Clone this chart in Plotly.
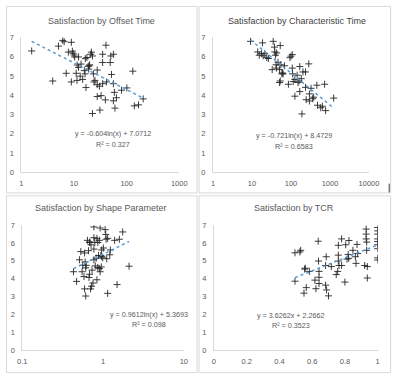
import numpy as np
import plotly.graph_objects as go

# ---------------- data ----------------
offset_x = [1.57, 3.94, 5.07, 6.1, 6.5, 7.1, 7.8, 8.9, 8.9, 9.3, 9.6, 10, 10.3, 11, 11.4, 11.5,
            12.2, 12.2, 13.1, 13.6, 14.6, 15.7, 16.2, 16.4, 16.9, 17.6, 18.6, 19, 19.4, 19.8,
            20.8, 21.4, 22.4, 22.4, 23.4, 24, 25, 27.6, 27.6, 27.6, 30.4, 31, 32.7, 35, 35,
            35, 39.4, 40.5, 41.5, 48.7, 50, 51.5, 56, 56, 56, 58.4, 60, 64, 80, 101, 131,
            140, 168, 206]
offset_y = [6.30, 4.74, 6.55, 6.85, 6.78, 5.14, 6.24, 6.75, 4.69, 6.29, 6.18, 6.09, 5.99, 5.14,
            4.77, 5.57, 5.99, 5.45, 4.99, 5.62, 4.82, 5.28, 5.11, 5.90, 4.40, 5.96, 5.50, 5.36,
            5.53, 5.58, 6.13, 6.24, 6.04, 3.05, 5.11, 4.69, 4.77, 5.31, 4.55, 3.93, 4.47, 3.23,
            3.98, 5.70, 6.13, 4.60, 3.76, 6.60, 4.69, 5.70, 6.04, 5.08, 6.13, 4.60, 3.71, 4.15,
            3.33, 3.87, 4.26, 4.38, 5.25, 3.45, 3.50, 3.81]

char_x = [9.2, 14, 15.4, 17.6, 18.6, 19.3, 21.3, 23.9, 26.3, 33, 35, 37.7, 38.5, 40, 41.4, 42.4,
          43, 46.5, 51, 51, 53, 53, 55, 58.6, 60, 63, 68, 86, 94, 100, 108, 108, 110, 114,
          126, 126, 144, 152, 161, 168, 168, 184, 191, 203, 236, 236, 245, 286, 297, 297,
          327, 360, 381, 461, 479, 580, 638, 729, 773, 1245]
char_y = [6.80, 6.25, 6.08, 6.16, 6.72, 6.05, 6.16, 5.95, 5.91, 5.33, 6.80, 6.50, 6.25, 6.08,
          5.58, 5.41, 6.20, 5.71, 5.33, 4.66, 6.58, 4.74, 5.58, 5.11, 5.16, 5.11, 5.53, 4.57,
          5.95, 6.03, 6.11, 5.41, 5.11, 4.71, 4.82, 3.95, 5.04, 4.66, 4.74, 5.49, 4.19, 4.86,
          3.03, 5.21, 5.21, 4.41, 3.77, 5.63, 4.07, 3.70, 4.36, 3.82, 3.90, 4.52, 3.48, 3.35,
          3.43, 4.57, 3.20, 3.85]

shape_x = [0.43, 0.47, 0.51, 0.53, 0.55, 0.56, 0.58, 0.59, 0.59, 0.60, 0.61, 0.61, 0.62, 0.64,
           0.66, 0.67, 0.68, 0.68, 0.685, 0.70, 0.71, 0.72, 0.73, 0.75, 0.77, 0.77, 0.77, 0.77,
           0.79, 0.80, 0.82, 0.84, 0.84, 0.86, 0.86, 0.88, 0.90, 0.90, 0.92, 0.92, 0.94, 0.95,
           0.96, 0.96, 0.99, 1.01, 1.06, 1.08, 1.09, 1.11, 1.14, 1.14, 1.21, 1.23, 1.39, 1.49,
           1.59, 1.75, 2.10]
shape_y = [4.39, 3.85, 5.06, 5.52, 4.39, 4.75, 4.12, 5.44, 3.43, 4.94, 4.61, 3.03, 4.75, 6.15,
           5.57, 4.07, 6.03, 4.25, 6.06, 3.43, 5.90, 3.58, 4.48, 3.76, 6.90, 6.30, 5.66, 5.06,
           6.03, 4.72, 5.15, 6.26, 3.94, 4.63, 6.03, 5.30, 6.15, 4.57, 6.84, 4.39, 5.30, 4.66,
           5.24, 5.61, 5.17, 5.72, 6.75, 6.48, 6.21, 5.12, 3.18, 6.26, 5.34, 5.61, 6.15, 3.67,
           6.21, 6.62, 4.70]

tcr_x = [0.495, 0.495, 0.525, 0.53, 0.55, 0.554, 0.558, 0.564, 0.583, 0.617, 0.623, 0.637, 0.639,
         0.642, 0.642, 0.642, 0.682, 0.682, 0.686, 0.688, 0.70, 0.717, 0.747, 0.756, 0.76,
         0.76, 0.76, 0.764, 0.78, 0.78, 0.80, 0.805, 0.813, 0.82, 0.823, 0.825, 0.849, 0.864,
         0.868, 0.874, 0.878, 0.921, 0.93, 0.93, 0.93, 0.933, 0.933, 0.937, 0.937, 1.0, 1.0,
         1.0, 1.0, 1.0, 1.0, 1.0, 1.0, 1.0]
tcr_y = [5.45, 3.86, 5.50, 5.59, 3.19, 4.54, 4.59, 3.50, 4.41, 3.92, 3.44, 6.10, 4.99, 4.41,
         4.08, 3.73, 4.74, 3.64, 5.23, 3.37, 3.04, 4.68, 4.23, 4.41, 5.87, 5.32, 4.99, 4.74,
         6.23, 4.74, 3.81, 5.90, 5.10, 5.36, 5.14, 6.14, 5.59, 5.23, 4.86, 5.92, 5.41, 4.74,
         6.78, 6.50, 6.23, 6.05, 5.59, 4.68, 4.04, 6.87, 6.68, 6.50, 6.23, 6.08, 5.90, 5.68,
         5.17, 5.05]

titles = ["Satisfaction by Offset Time", "Satisfaction by Characteristic Time",
          "Satisfaction by Shape Parameter", "Satisfaction by TCR"]
equations = ["y = -0.604ln(x) + 7.0712", "y = -0.721ln(x) + 8.4729",
             "y = 0.9612ln(x) + 5.3693", "y = 3.6262x + 2.2662"]
r2_labels = ["R² = 0.327", "R² = 0.6583", "R² = 0.098", "R² = 0.3523"]
trend_slope = [-0.604, -0.721, 0.9612, 3.6262]
trend_intercept = [7.0712, 8.4729, 5.3693, 2.2662]
trend_kind = ["log", "log", "log", "linear"]

x_ticks = [[1, 10, 100, 1000], [1, 10, 100, 1000, 10000], [0.1, 1, 10], [0, 0.2, 0.4, 0.6, 0.8, 1]]
x_ticktext = [["1", "10", "100", "1000"], ["1", "10", "100", "1000", "10000"],
              ["0.1", "1", "10"], ["0", "0.2", "0.4", "0.6", "0.8", "1"]]
y_ticks = [0, 1, 2, 3, 4, 5, 6, 7]

# ---------------- layout constants ----------------
W, H = 404, 381
FONT = "Liberation Sans"
TXT = "#595959"
AXC = "#d9d9d9"
TREND = "#5b9bd5"

def px(x):
    return x / W

def py(y):
    return 1 - y / H

xs = [offset_x, char_x, shape_x, tcr_x]
ys = [offset_y, char_y, shape_y, tcr_y]
x_types = ["log", "log", "log", "linear"]
x_ranges = [[0, 3], [0, 4], [-1, 1], [0, 1]]
x_dom_px = [(17, 181), (216, 378), (18, 185.7), (217, 387)]
y_dom_px = [(172.3, 34.3), (172.3, 34.3), (354.5, 226.5), (354.5, 226.5)]
title_pos = [(100, 17), (303, 17), (100, 209), (300, 209)]
eq_pos = [(112.5, 133, 144), (300, 134.5, 145.5), (150, 318.5, 328.5), (297, 319, 329.5)]
panel_rects = [(1.5, 2.5, 199.5, 193.5), (201.5, 2.5, 400.5, 193.5),
               (1.5, 196.5, 199.5, 377.5), (201.5, 196.5, 400.5, 377.5)]

fig = go.Figure()
layout = dict(
    width=W, height=H, margin=dict(l=0, r=0, t=0, b=0),
    paper_bgcolor="white", plot_bgcolor="white", showlegend=False,
    font=dict(family=FONT, color=TXT, size=7.5),
)
annotations = []
shapes = []

for i in range(4):
    sfx = "" if i == 0 else str(i + 1)
    xa, ya = "x" + sfx, "y" + sfx
    fig.add_trace(go.Scatter(
        x=xs[i], y=ys[i], mode="markers", xaxis=xa, yaxis=ya,
        marker=dict(symbol="cross-thin", size=5, color="black",
                    line=dict(color="#262626", width=0.9)),
        hoverinfo="skip"))
    lo, hi = min(xs[i]), max(xs[i])
    if trend_kind[i] == "log":
        tx = np.geomspace(lo, hi, 60)
        ty = trend_slope[i] * np.log(tx) + trend_intercept[i]
    else:
        tx = np.linspace(lo, hi, 60)
        ty = trend_slope[i] * tx + trend_intercept[i]
    fig.add_trace(go.Scatter(
        x=tx, y=ty, mode="lines", xaxis=xa, yaxis=ya,
        line=dict(color=TREND, width=1.5, dash="dot"), hoverinfo="skip"))

    layout["xaxis" + sfx] = dict(
        type=x_types[i], range=x_ranges[i], domain=[px(x_dom_px[i][0]), px(x_dom_px[i][1])],
        anchor=ya, tickmode="array", tickvals=x_ticks[i], ticktext=x_ticktext[i],
        showgrid=False, zeroline=False, showline=True, linecolor=AXC, linewidth=1,
        ticks="", ticklabelstandoff=4, tickfont=dict(size=7.5, color=TXT, family=FONT))
    layout["yaxis" + sfx] = dict(
        range=[0, 7], domain=[py(y_dom_px[i][0]), py(y_dom_px[i][1])], anchor=xa,
        tickmode="array", tickvals=y_ticks,
        showgrid=False, zeroline=False, showline=True, linecolor=AXC, linewidth=1,
        ticks="", ticklabelstandoff=5, tickfont=dict(size=7.5, color=TXT, family=FONT))

    tx_, ty_ = title_pos[i]
    annotations.append(dict(text=titles[i], x=px(tx_), y=py(ty_), xref="paper", yref="paper",
                            xanchor="center", yanchor="middle", showarrow=False,
                            font=dict(size=9, color="#404040" if i == 1 else TXT, family=FONT)))
    ex, ey1, ey2 = eq_pos[i]
    annotations.append(dict(text=equations[i], x=px(ex), y=py(ey1), xref="paper", yref="paper",
                            xanchor="center", yanchor="middle", showarrow=False,
                            font=dict(size=7.2, color=TXT, family=FONT)))
    annotations.append(dict(text=r2_labels[i], x=px(ex), y=py(ey2), xref="paper", yref="paper",
                            xanchor="center", yanchor="middle", showarrow=False,
                            font=dict(size=7.2, color=TXT, family=FONT)))
    x0, y0, x1, y1 = panel_rects[i]
    shapes.append(dict(type="rect", xref="paper", yref="paper",
                       x0=px(x0), x1=px(x1), y0=py(y1), y1=py(y0),
                       line=dict(color=AXC, width=1), layer="below"))

shapes.append(dict(type="line", xref="paper", yref="paper", x0=px(399), x1=px(399),
                   y0=py(193), y1=py(184), line=dict(color="#404040", width=1)))

layout["annotations"] = annotations
layout["shapes"] = shapes
fig.update_layout(**layout)
fig.write_html("out.html")
